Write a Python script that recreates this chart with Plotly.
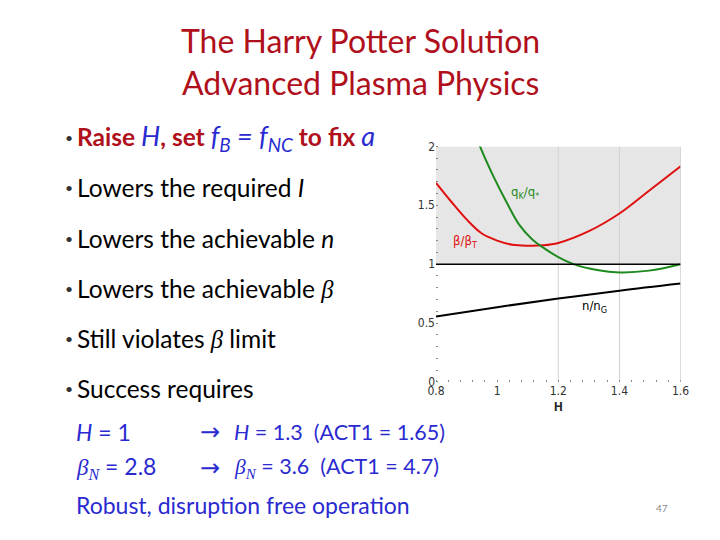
import plotly.graph_objects as go

# curves (x = H)
h_beta = [0.8, 0.85, 0.9, 0.95, 1.0, 1.05, 1.1, 1.15, 1.2, 1.3, 1.4, 1.5, 1.6]
beta_ratio = [1.69, 1.53, 1.38, 1.26, 1.2, 1.165, 1.157, 1.16, 1.18, 1.28, 1.43, 1.63, 1.83]

h_q = [0.93, 0.944, 0.987, 1.03, 1.072, 1.115, 1.146, 1.2, 1.25, 1.327, 1.4, 1.497, 1.6]
q_ratio = [2.1, 2.0, 1.75, 1.53, 1.336, 1.21, 1.149, 1.06, 1.0, 0.95, 0.93, 0.945, 1.0]

h_n = [0.8, 1.0, 1.2, 1.4, 1.6]
n_ratio = [0.556, 0.635, 0.708, 0.775, 0.835]

x_ticks = [0.8, 1, 1.2, 1.4, 1.6]
y_ticks = [0, 0.5, 1, 1.5, 2]
grid_x = [1.2, 1.4]

# page body has an 8px margin: make figure + margin fill the 720x540 window
OFF = 8
W, H = 720 - 2 * OFF, 540 - 2 * OFF
RED = "#b0101c"
BLUE = "#2a2ad0"
FONT = "Lato, 'Open Sans', sans-serif"


def px(x):
    return (x - OFF) / W


def py(y):
    return 1 - (y - OFF) / H


fig = go.Figure()

fig.add_trace(go.Scatter(x=h_beta, y=beta_ratio, mode="lines",
                         line=dict(color="#e01010", width=2, shape="spline"),
                         hoverinfo="skip"))
fig.add_trace(go.Scatter(x=h_q, y=q_ratio, mode="lines",
                         line=dict(color="#1e8a1e", width=2, shape="spline"),
                         hoverinfo="skip"))
fig.add_trace(go.Scatter(x=h_n, y=n_ratio, mode="lines",
                         line=dict(color="black", width=2, shape="spline"),
                         hoverinfo="skip"))

# shaded band above 1, grid lines and the reference line
fig.add_shape(type="rect", x0=0.8, x1=1.6, y0=1, y1=2, fillcolor="#e6e6e6",
              line_width=0, layer="below")
for g in grid_x:
    fig.add_shape(type="line", x0=g, x1=g, y0=0, y1=2, layer="below",
                  line=dict(color="#d2d2d2", width=1))
fig.add_shape(type="line", x0=1.6, x1=1.6, y0=0, y1=2,
              line=dict(color="#bbb", width=1))
fig.add_shape(type="line", x0=0.8, x1=1.6, y0=1, y1=1,
              line=dict(color="black", width=1.5))

tick_font = dict(family="'DejaVu Sans Condensed', 'Liberation Sans Narrow', sans-serif",
                 size=12, color="#333")

fig.update_xaxes(domain=[px(438), px(689)], range=[0.8, 1.6], tickvals=x_ticks,
                 ticktext=["0.8", "1", "1.2", "1.4", "1.6"],
                 showgrid=False, zeroline=False, showline=False, ticks="",
                 tickfont=tick_font,
                 minor=dict(dtick=0.04, ticks="inside", ticklen=2, tickcolor="#888"),
                 title=dict(text="<b>H</b>", font=dict(size=12, color="#222"), standoff=1))
fig.update_yaxes(domain=[py(385), py(143)], range=[0, 2], tickvals=y_ticks,
                 ticktext=["0", "0.5", "1", "1.5", "2"],
                 showgrid=False, zeroline=False, showline=False, ticks="",
                 tickfont=tick_font,
                 minor=dict(dtick=0.1, ticks="inside", ticklen=2, tickcolor="#888"))

curve_labels = [
    (1.04, 1.61, "q<sub>K</sub>/q<sub>*</sub>", "#1e8a1e"),
    (0.85, 1.19, "β/β<sub>T</sub>", "#e01010"),
    (1.27, 0.64, "n/n<sub>G</sub>", "black"),
]
for x, y, t, c in curve_labels:
    fig.add_annotation(x=x, y=y, text=t, showarrow=False, xanchor="left", align="left",
                       font=dict(family=tick_font["family"], size=13, color=c))

# slide text
titles = ["The Harry Potter Solution", "Advanced Plasma Physics"]
for i, t in enumerate(titles):
    fig.add_annotation(x=px(360), y=py(34 + 43 * i), xref="paper", yref="paper",
                       text=t, showarrow=False, xanchor="center", yanchor="middle",
                       font=dict(family=FONT, size=32, color=RED))

math = "font-family:'Liberation Serif', serif"
bullets = [
    f"<b style='color:{RED}'>Raise </b><i style='color:{BLUE};font-size:27px'>H</i>"
    f"<b style='color:{RED}'>, set </b><i style='color:{BLUE};font-size:27px'>f<sub>B</sub> = f<sub>NC</sub></i>"
    f"<b style='color:{RED}'> to fix </b><i style='color:{BLUE};font-size:27px'>a</i>",
    "Lowers the required <i>I</i>",
    "Lowers the achievable <i>n</i>",
    f"Lowers the achievable <i style=\"{math}\">β</i>",
    f"Still violates <i style=\"{math}\">β</i> limit",
    "Success requires",
]
for i, t in enumerate(bullets):
    y = 134 + 51.6 * i
    fig.add_annotation(x=px(55), y=py(y), xref="paper", yref="paper", text="•",
                       showarrow=False, xanchor="left", yanchor="middle", align="left",
                       font=dict(family=FONT, size=14, color="#333"))
    fig.add_annotation(x=px(68), y=py(y), xref="paper", yref="paper", text=t,
                       showarrow=False, xanchor="left", yanchor="middle", align="left",
                       font=dict(family=FONT, size=24.5, color="black"))

rows_left = ["<i>H</i> = 1", f"<i style=\"{math}\">β<sub>N</sub></i> = 2.8"]
rows_right = ["<i>H</i> = 1.3  (ACT1 = 1.65)", f"<i style=\"{math}\">β<sub>N</sub></i> = 3.6  (ACT1 = 4.7)"]
for i in range(2):
    y = py(436 + 37 * i)
    fig.add_annotation(x=px(67), y=y, xref="paper", yref="paper", text=rows_left[i],
                       showarrow=False, xanchor="left", yanchor="middle", align="left",
                       font=dict(family=FONT, size=23, color=BLUE))
    fig.add_annotation(x=px(194), y=y, xref="paper", yref="paper", text="→",
                       showarrow=False, xanchor="left", yanchor="middle", align="left",
                       font=dict(family="'DejaVu Sans', sans-serif", size=24, color=BLUE))
    fig.add_annotation(x=px(229), y=y, xref="paper", yref="paper", text=rows_right[i],
                       showarrow=False, xanchor="left", yanchor="middle", align="left",
                       font=dict(family=FONT, size=21.5, color=BLUE))
fig.add_annotation(x=px(67), y=py(511), xref="paper", yref="paper",
                   text="Robust, disruption free operation", showarrow=False,
                   xanchor="left", yanchor="middle", align="left",
                   font=dict(family=FONT, size=23, color=BLUE))

fig.add_annotation(x=px(670), y=py(515), xref="paper", yref="paper", text="47",
                   showarrow=False, xanchor="center", yanchor="middle",
                   font=dict(family=FONT, size=10, color="#888"))

fig.update_layout(width=W, height=H, margin=dict(l=0, r=0, t=0, b=0),
                  paper_bgcolor="white", plot_bgcolor="white", showlegend=False)

fig.write_html("out.html")
